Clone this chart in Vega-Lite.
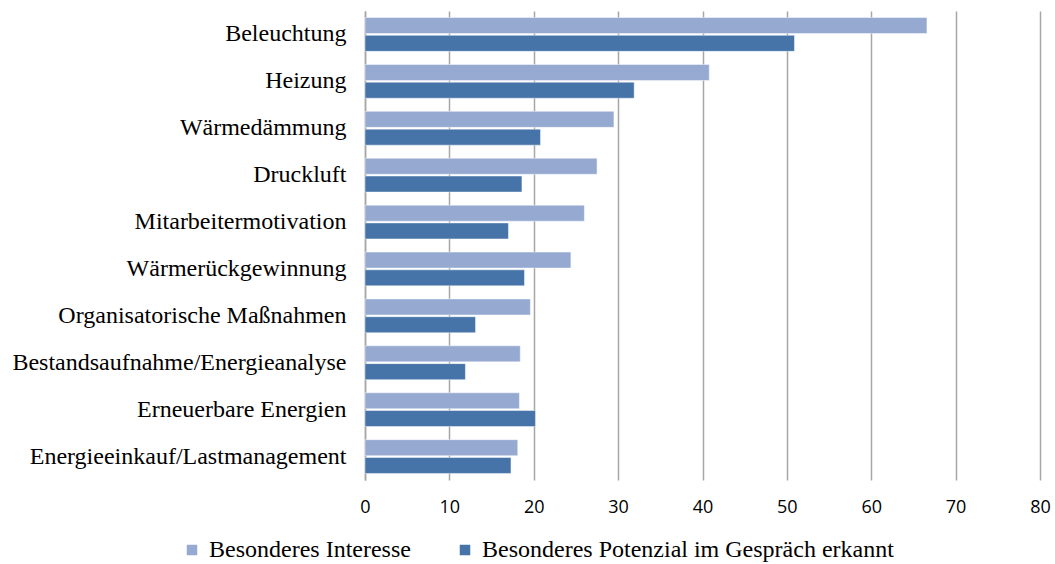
{
  "$schema": "https://vega.github.io/schema/vega-lite/v6.json",
  "width": 675,
  "height": 469,
  "autosize": {"type": "none"},
  "padding": {"left": 365, "top": 11, "right": 15, "bottom": 84},
  "background": "white",
  "config": {"view": {"stroke": null}},
  "data": {
    "values": [
      {"Maßnahme": "Beleuchtung", "Serie": "Besonderes Interesse", "Wert": 66.6},
      {"Maßnahme": "Beleuchtung", "Serie": "Besonderes Potenzial im Gespräch erkannt", "Wert": 50.9},
      {"Maßnahme": "Heizung", "Serie": "Besonderes Interesse", "Wert": 40.8},
      {"Maßnahme": "Heizung", "Serie": "Besonderes Potenzial im Gespräch erkannt", "Wert": 31.9},
      {"Maßnahme": "Wärmedämmung", "Serie": "Besonderes Interesse", "Wert": 29.5},
      {"Maßnahme": "Wärmedämmung", "Serie": "Besonderes Potenzial im Gespräch erkannt", "Wert": 20.8},
      {"Maßnahme": "Druckluft", "Serie": "Besonderes Interesse", "Wert": 27.5},
      {"Maßnahme": "Druckluft", "Serie": "Besonderes Potenzial im Gespräch erkannt", "Wert": 18.6},
      {"Maßnahme": "Mitarbeitermotivation", "Serie": "Besonderes Interesse", "Wert": 26.0},
      {"Maßnahme": "Mitarbeitermotivation", "Serie": "Besonderes Potenzial im Gespräch erkannt", "Wert": 17.0},
      {"Maßnahme": "Wärmerückgewinnung", "Serie": "Besonderes Interesse", "Wert": 24.4},
      {"Maßnahme": "Wärmerückgewinnung", "Serie": "Besonderes Potenzial im Gespräch erkannt", "Wert": 18.9},
      {"Maßnahme": "Organisatorische Maßnahmen", "Serie": "Besonderes Interesse", "Wert": 19.6},
      {"Maßnahme": "Organisatorische Maßnahmen", "Serie": "Besonderes Potenzial im Gespräch erkannt", "Wert": 13.1},
      {"Maßnahme": "Bestandsaufnahme/Energieanalyse", "Serie": "Besonderes Interesse", "Wert": 18.4},
      {"Maßnahme": "Bestandsaufnahme/Energieanalyse", "Serie": "Besonderes Potenzial im Gespräch erkannt", "Wert": 11.9},
      {"Maßnahme": "Erneuerbare Energien", "Serie": "Besonderes Interesse", "Wert": 18.3},
      {"Maßnahme": "Erneuerbare Energien", "Serie": "Besonderes Potenzial im Gespräch erkannt", "Wert": 20.2},
      {"Maßnahme": "Energieeinkauf/Lastmanagement", "Serie": "Besonderes Interesse", "Wert": 18.1},
      {"Maßnahme": "Energieeinkauf/Lastmanagement", "Serie": "Besonderes Potenzial im Gespräch erkannt", "Wert": 17.3}
    ]
  },
  "mark": {"type": "bar", "stroke": "#ffffff", "strokeOpacity": 0.45, "strokeWidth": 1},
  "encoding": {
    "y": {
      "field": "Maßnahme",
      "type": "nominal",
      "sort": null,
      "scale": {"paddingInner": 0.28, "paddingOuter": 0.14},
      "axis": {
        "title": null,
        "labelFont": "Liberation Serif",
        "labelFontSize": 24,
        "labelColor": "#000000",
        "labelPadding": 19,
        "labelLimit": 400,
        "ticks": false,
        "domainColor": "#a6a6a6",
        "domainWidth": 1.5
      }
    },
    "x": {
      "field": "Wert",
      "type": "quantitative",
      "scale": {"domain": [0, 80], "nice": false},
      "axis": {
        "title": null,
        "values": [0, 10, 20, 30, 40, 50, 60, 70, 80],
        "grid": true,
        "gridColor": "#a6a6a6",
        "gridWidth": 1.5,
        "domain": false,
        "ticks": false,
        "labelFont": "Open Sans",
        "labelFontSize": 18,
        "labelColor": "#000000",
        "labelPadding": 18,
        "labelFlush": false
      }
    },
    "yOffset": {
      "field": "Serie",
      "sort": ["Besonderes Interesse", "Besonderes Potenzial im Gespräch erkannt"],
      "scale": {"paddingInner": 0.1}
    },
    "color": {
      "field": "Serie",
      "type": "nominal",
      "scale": {
        "domain": ["Besonderes Interesse", "Besonderes Potenzial im Gespräch erkannt"],
        "range": ["#95a9d1", "#4673a8"]
      },
      "legend": {
        "title": null,
        "orient": "none",
        "direction": "horizontal",
        "legendX": -185,
        "legendY": 527,
        "symbolType": "square",
        "symbolSize": 110,
        "symbolStrokeWidth": 0,
        "labelFont": "Liberation Serif",
        "labelFontSize": 24,
        "labelColor": "#000000",
        "labelOffset": 5,
        "columnPadding": 42,
        "labelLimit": 600
      }
    }
  }
}
